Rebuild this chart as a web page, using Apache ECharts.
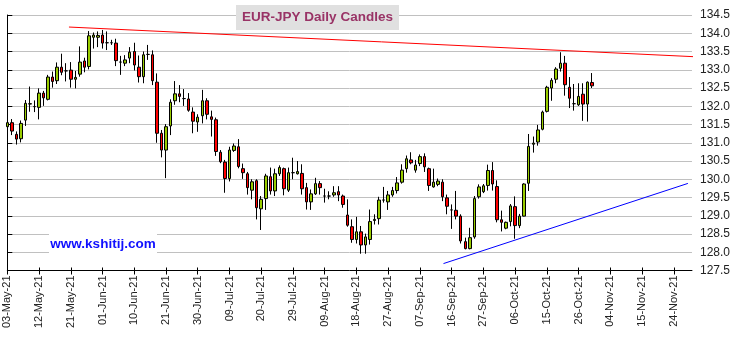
<!DOCTYPE html>
<html><head><meta charset="utf-8">
<script src="https://cdn.jsdelivr.net/npm/echarts@6/dist/echarts.min.js"></script>
<style>html,body{margin:0;padding:0;background:#fff}#c{width:733px;height:337px}</style>
</head><body><div id="c"></div>
<script>
// Category axis: weekdays from 03-May-21 to 30-Nov-21
const startDate = [2021, 4, 3];
const dayCount = 152;
const monthNames = ['Jan','Feb','Mar','Apr','May','Jun','Jul','Aug','Sep','Oct','Nov','Dec'];
const categories = [];
(function(){
  let d = new Date(Date.UTC(startDate[0], startDate[1], startDate[2]));
  while (categories.length < dayCount) {
    const wd = d.getUTCDay();
    if (wd !== 0 && wd !== 6) {
      const dd = String(d.getUTCDate()).padStart(2,'0');
      categories.push(dd + '-' + monthNames[d.getUTCMonth()] + '-' + String(d.getUTCFullYear()).slice(2));
    }
    d = new Date(d.getTime() + 86400000);
  }
})();

const opens = [131.44,131.55,131.23,131.11,131.62,132.06,131.99,131.97,132.36,132.19,
132.80,132.70,133.07,132.97,132.99,132.74,132.88,133.24,133.09,133.89,
133.89,133.95,133.74,133.74,133.73,133.21,133.18,133.32,133.50,133.07,
132.81,133.42,133.41,132.66,131.26,130.80,131.46,132.15,132.34,132.21,
132.20,131.84,131.57,131.74,132.15,131.71,131.63,130.74,130.47,130.02,
130.79,130.89,130.29,130.15,129.70,129.96,129.19,129.47,130.07,129.68,
130.15,130.29,129.70,130.18,130.15,130.16,129.77,129.38,129.60,129.88,
129.54,129.54,129.57,129.66,129.54,129.02,128.70,128.35,128.56,128.20,
128.35,128.87,128.92,129.43,129.38,129.57,129.69,129.92,130.29,130.53,
130.25,130.43,130.62,130.29,129.79,129.86,129.92,129.49,129.16,129.15,
128.99,128.29,128.10,128.42,129.52,129.66,129.83,130.24,129.80,128.89,
128.66,128.84,129.25,128.73,128.99,129.89,130.96,131.02,131.37,131.86,
132.50,132.74,133.04,133.18,132.52,132.07,132.04,132.33,132.06,132.65];
const highs = [132.17,131.65,131.31,131.61,132.17,132.54,132.16,132.49,132.42,132.86,
132.95,133.20,133.44,133.18,133.21,132.97,133.64,133.33,134.06,134.02,
134.05,134.09,134.05,133.82,133.85,133.38,133.40,133.62,133.74,133.39,
133.50,133.68,133.53,132.90,131.35,131.51,132.19,132.69,132.58,132.47,
132.36,131.97,131.78,132.45,132.22,131.88,131.69,130.80,130.53,130.89,
130.98,131.10,130.43,130.20,130.00,130.00,129.54,130.15,130.32,130.29,
130.38,130.32,130.32,130.59,130.50,130.41,129.90,129.72,130.04,129.95,
129.74,129.67,129.81,129.81,129.58,129.45,128.90,128.97,128.72,128.51,
129.17,129.04,129.52,129.79,129.68,129.79,130.06,130.41,130.65,130.74,
130.53,130.68,130.71,130.32,130.29,130.02,130.00,129.58,129.31,129.68,
129.04,128.40,128.67,129.54,129.86,129.87,130.40,130.47,129.97,129.14,
128.84,129.32,129.53,129.05,129.89,131.24,131.17,131.49,131.88,132.56,
132.77,133.07,133.48,133.38,132.80,132.61,132.63,132.63,132.68,132.91];
const lows = [131.33,131.21,130.95,131.01,131.46,131.85,131.84,131.64,132.01,132.16,
132.51,132.61,132.85,132.68,132.51,132.49,132.81,132.93,133.01,133.58,
133.62,133.58,133.54,133.68,133.10,132.86,133.10,133.18,132.98,132.65,
132.63,133.27,132.58,131.00,130.60,130.03,131.21,132.04,132.11,132.01,
131.85,131.26,131.30,131.53,131.64,131.17,130.64,130.44,129.63,129.94,
130.75,130.30,130.01,129.58,129.45,128.90,128.61,129.16,129.58,129.54,
130.09,129.56,129.65,130.00,130.13,129.58,129.17,129.16,129.57,129.58,
129.36,129.45,129.52,129.40,129.22,128.70,128.26,128.24,127.96,127.96,
128.21,128.76,128.76,129.36,129.16,129.52,129.61,129.88,130.18,130.41,
130.18,130.36,130.20,129.68,129.77,129.81,129.40,129.04,128.64,128.90,
128.24,128.08,128.08,128.37,129.47,129.62,129.69,129.69,128.82,128.57,
128.63,128.71,128.37,128.66,128.98,129.68,130.73,130.92,131.34,131.83,
132.15,132.63,132.95,132.29,131.95,131.88,132.01,131.60,131.58,132.50];
const closes = [131.55,131.32,131.10,131.53,132.08,132.07,131.99,132.36,132.23,132.80,
132.68,133.07,132.93,132.97,132.74,132.79,133.21,133.07,133.93,133.95,
133.94,133.73,133.74,133.74,133.25,133.21,133.27,133.48,133.13,132.81,
133.41,133.42,132.70,131.26,130.80,131.44,132.11,132.34,132.27,132.21,
131.89,131.59,131.70,132.15,131.78,131.64,130.76,130.48,130.02,130.80,
130.91,130.35,130.18,129.77,129.93,129.22,129.45,130.09,129.68,130.15,
130.32,129.74,130.18,130.18,130.21,129.74,129.38,129.60,129.88,129.77,
129.54,129.54,129.63,129.57,129.31,128.74,128.35,128.56,128.20,128.42,
128.84,128.90,129.43,129.43,129.57,129.69,129.90,130.25,130.56,130.45,
130.39,130.62,130.34,129.83,129.92,129.95,129.52,129.26,129.16,128.99,
128.31,128.10,128.40,129.47,129.79,129.82,130.24,129.87,128.89,128.82,
128.82,129.27,128.73,128.99,129.87,130.90,130.99,131.35,131.84,132.52,
132.71,133.02,133.18,132.59,132.22,132.07,132.27,132.06,132.66,132.56];

// Trend lines (x in trading-day index, y in price)
const resistanceX = [13.6, 151.9];
const resistanceY = [134.17, 133.355];
const supportX = [96.2, 150.1];
const supportY = [127.69, 129.886];

const yMin = 127.5, yMax = 134.5, yStep = 0.5;
const titleText = 'EUR-JPY Daily Candles';
const watermark = 'www.kshitij.com';

const FONT = "'Liberation Sans', Arial, sans-serif";
const chart = echarts.init(document.getElementById('c'), null, {renderer:'canvas'});
const candleData = opens.map((o,i)=>[o, closes[i], lows[i], highs[i]]);

chart.setOption({
  animation:false,
  backgroundColor:'#fff',
  grid:{left:7.3, right:40, top:15, bottom:66.5},
  xAxis:[
    {type:'category', data:categories, boundaryGap:false,
     axisLine:{lineStyle:{color:'#000', width:1}},
     axisTick:{alignWithLabel:true, interval:6, length:4, lineStyle:{color:'#000'}},
     axisLabel:{interval:6, rotate:90, fontSize:11, fontFamily:FONT, color:'#222', margin:5},
     splitLine:{show:false}},
    {type:'category', data:categories, boundaryGap:false, position:'bottom',
     axisLine:{show:false},
     axisTick:{inside:true, interval:6, length:3, lineStyle:{color:'#000'}},
     axisLabel:{show:false}, splitLine:{show:false}},
    {type:'value', min:0, max:dayCount-1, show:false}
  ],
  yAxis:{type:'value', position:'right', min:yMin, max:yMax, interval:yStep,
    axisLine:{show:true, lineStyle:{color:'#000'}},
    axisTick:{show:true, length:5, lineStyle:{color:'#000'}},
    axisLabel:{formatter:v=>v.toFixed(1), fontSize:12, fontFamily:FONT, color:'#222', margin:8},
    splitLine:{show:true, lineStyle:{color:'#c0c0c0', width:1}}},
  series:[
    {type:'candlestick', xAxisIndex:0, data:candleData, barWidth:3, clip:false,
     itemStyle:{color:'#99cc00', color0:'#ff0000', borderColor:'#000', borderColor0:'#000', borderWidth:1}},
    {type:'line', xAxisIndex:2, data:resistanceX.map((x,i)=>[x,resistanceY[i]]), symbol:'none', clip:false,
     lineStyle:{color:'#ff0000', width:1}, z:5},
    {type:'line', xAxisIndex:2, data:supportX.map((x,i)=>[x,supportY[i]]), symbol:'none', clip:false,
     lineStyle:{color:'#0000ff', width:1}, z:5}
  ],
  graphic:[
    {type:'rect', z:100, shape:{x:236, y:5, width:163, height:25}, style:{fill:'#e0e0e0'}},
    {type:'text', z:101, x:317.5, y:17.5, style:{text:titleText, fill:'#993366', font:"bold 13.5px 'Liberation Sans', Arial, sans-serif", textAlign:'center', textVerticalAlign:'middle'}},
    {type:'rect', z:100, shape:{x:49, y:232, width:108, height:23}, style:{fill:'#fff'}},
    {type:'text', z:101, x:103, y:244, style:{text:watermark, fill:'#1010ff', font:"bold 13.5px 'Liberation Sans', Arial, sans-serif", textAlign:'center', textVerticalAlign:'middle'}}
  ]
});
</script></body></html>
